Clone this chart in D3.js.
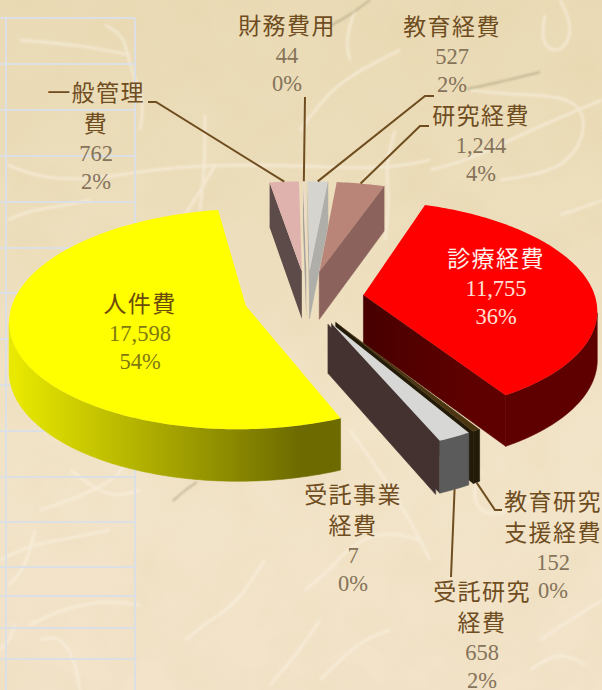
<!DOCTYPE html>
<html><head><meta charset="utf-8">
<style>html,body{margin:0;padding:0;background:#f0e2c6;overflow:hidden}svg{display:block}</style>
<script src="https://cdn.jsdelivr.net/npm/d3@7"></script></head>
<body><svg id="c" width="602" height="690"></svg>
<script>
// ---- data ----
const categories = [
  ["診療経費"], ["教育研究","支援経費"], ["受託研究","経費"], ["受託事業","経費"],
  ["人件費"], ["一般管理","費"], ["財務費用"], ["教育経費"], ["研究経費"]
];
const values = [11755, 152, 658, 7, 17598, 762, 44, 527, 1244];

// ---- style and layout ----
const topColors  = ["#ff0000","#4c3612","#d7d7d5","#8a8a88","#ffff00","#dfb2ad","#ecdcd2","#d6d4cf","#b98579"];
const arcColors  = ["#5f0000","#231a08","#5b5b5b","#5b5b5b","url(#yel)","#5c4b49","#a09a94","#b0aea8","#8b625c"];
const faceColors = ["url(#redFace)","#231a08","#443230","#443230","#6f6f00","#5c4b49","#a8a29c","#b0aea8","#8b625c"];
const paintOrder = [8,7,6,5,4,0,1,3,2];
const sliceNudge = [0,0,0,0,0,3,3,3,3];
const labelX = [496,553,482,353,140,96,287,452,481];
const labelY = [261,504,594,497,306,95,28,29,118];
const leaders = [null,[[495,510],[502,510]],[[451,577]],null,null,[[156,102],[148,102]],[[305,97]],[[425,96],[434,96]],[[420,126],[429,126]]];
const leaderFromBottom = [false,true,true,false,false,false,false,false,false];
const nameColors = ["#fff0ea","#6f4d1f","#6f4d1f","#6f4d1f","#6b4a0a","#6f4d1f","#6f4d1f","#6f4d1f","#6f4d1f"];
const numColors  = ["#ffe0d4","#85735a","#85735a","#85735a","#7f7a10","#85735a","#85735a","#85735a","#85735a"];
const gridH = [18,64,110,156,202,248,293,339,385,431,477,522,567,596,628,659];
const gridV = [6,135];
const fibers = [
 [[105,25],[125,35],[130,70],[145,100],[140,130]],[[8,165],[40,178],[90,180],[150,170],[200,165],[300,165],[380,170],[430,160]],
 [[205,115],[205,165],[200,210]],[[215,165],[195,200],[175,230]],[[130,55],[80,45],[20,40]],
 [[350,60],[345,40],[355,10]],[[300,130],[330,90],[360,70],[400,50]],[[430,170],[470,160],[530,130],[602,100]],
 [[560,0],[575,30],[560,55],[540,45],[545,15]],[[395,130],[385,165],[390,200],[385,240]],[[470,90],[510,95],[570,95],[590,120],[570,170],[500,180]],
 [[8,220],[30,210],[70,205],[90,200]],[[560,215],[590,205],[602,200]],
 [[305,590],[330,570],[350,545],[385,530],[420,540]],[[185,640],[210,620],[235,605],[255,575],[265,560]],[[270,685],[300,650],[320,620]],
 [[30,625],[60,610],[100,600],[140,605]],[[40,640],[60,635],[75,660],[80,690]],[[8,585],[25,570],[35,530]],[[0,560],[30,545],[60,540],[110,530]],
 [[0,650],[10,640],[15,625]],[[70,470],[110,500],[140,490]],[[540,640],[570,620],[602,600]],[[480,470],[470,500],[490,520],[530,500]],
 [[105,400],[140,460],[100,490],[40,510]],[[320,680],[360,640],[390,630]],[[350,430],[400,500],[430,560]],[[530,670],[560,650],[585,665]]
];
const darkFibers = [[[467,89],[500,82],[540,72]],[[330,26],[350,15],[370,0]],[[173,501],[185,490],[197,482]]];

// ---- scales / projection ----
const cx = 304, cy = 298, radius = 232, explode = 60, tilt = 0.46, persp = 0.12, deg = Math.PI/180;
const pie = d3.pie().sort(null).startAngle(19*deg).endAngle(379*deg);
const arcs = pie(values);
arcs.forEach(a => { a.nudge = sliceNudge[a.index]; });
const depth = d3.scalePow().exponent(0.54).domain([0,1]).range([0,48.3]);
function project(X, Y, lower, nudge){
  const f = 1/(1 - persp*Y/radius);
  return [cx + nudge + X*f, cy + tilt*Y*f + (lower ? depth(f) : 0)];
}
function rim(a, ang, lower){
  const mid = (a.startAngle + a.endAngle)/2;
  return project(explode*Math.sin(mid) + radius*Math.sin(ang), -explode*Math.cos(mid) - radius*Math.cos(ang), lower, a.nudge);
}
function apex(a, lower){
  const mid = (a.startAngle + a.endAngle)/2;
  return project(explode*Math.sin(mid), -explode*Math.cos(mid), lower, a.nudge);
}
const area = p => -d3.polygonArea(p);           // screen-space shoelace; sign gives facing
const line = d3.line();
const closed = p => line(p) + "Z";

// ---- paper ----
const svg = d3.select("#c");
const defs = svg.append("defs");
const bg = defs.append("linearGradient").attr("id","paper").attr("x1",0).attr("x2",0).attr("y1",0).attr("y2",1);
bg.append("stop").attr("offset",0).attr("stop-color","#eadbb6");
bg.append("stop").attr("offset",.35).attr("stop-color","#eddebd");
bg.append("stop").attr("offset",.62).attr("stop-color","#f2e4c8");
bg.append("stop").attr("offset",1).attr("stop-color","#f2e3c9");
const yel = defs.append("linearGradient").attr("id","yel").attr("gradientUnits","userSpaceOnUse")
  .attr("x1",15).attr("x2",300).attr("y1",0).attr("y2",0);
yel.append("stop").attr("offset",0).attr("stop-color","#e8e800");
yel.append("stop").attr("offset",1).attr("stop-color","#6d6b00");
const rf = defs.append("linearGradient").attr("id","redFace").attr("gradientUnits","userSpaceOnUse")
  .attr("x1",363).attr("x2",470).attr("y1",0).attr("y2",0);
rf.append("stop").attr("offset",0).attr("stop-color","#470000");
rf.append("stop").attr("offset",1).attr("stop-color","#5f0000");
const tf = defs.append("filter").attr("id","mottle").attr("x",0).attr("y",0).attr("width","100%").attr("height","100%");
tf.append("feTurbulence").attr("type","fractalNoise").attr("baseFrequency",0.018).attr("numOctaves",3).attr("seed",7);
tf.append("feColorMatrix").attr("values","0 0 0 0 0.72  0 0 0 0 0.58  0 0 0 0 0.30  0.7 0 0 0 -0.28");
defs.append("filter").attr("id","soft").append("feGaussianBlur").attr("stdDeviation",1.1);

svg.append("rect").attr("width",602).attr("height",690).attr("fill","url(#paper)");
svg.append("rect").attr("width",602).attr("height",690).attr("filter","url(#mottle)").attr("opacity",.4);
const curve = d3.line().curve(d3.curveBasis);
svg.append("g").attr("filter","url(#soft)").attr("fill","none").attr("stroke","#fbf4e8").attr("stroke-width",2.6).attr("opacity",.55)
  .selectAll("path").data(fibers).join("path").attr("d",curve);
svg.append("g").attr("filter","url(#soft)").attr("fill","none").attr("stroke","#9a9270").attr("stroke-width",1.5).attr("opacity",.7)
  .selectAll("path").data(darkFibers).join("path").attr("d",curve);

// ---- table grid behind the chart ----
const grid = svg.append("g").attr("stroke","#dcdfe3").attr("stroke-width",2);
grid.selectAll(".h").data(gridH).join("line").attr("x1",0).attr("x2",135).attr("y1",d=>d).attr("y2",d=>d);
grid.selectAll(".v").data(gridV).join("line").attr("x1",d=>d).attr("x2",d=>d).attr("y1",18).attr("y2",690);

// ---- slices ----
const gS = svg.append("g");
paintOrder.forEach(i => {
  const a = arcs[i], g = gS.append("g");
  const steps = d3.range(0, 1.0001, 1/Math.max(2, Math.ceil((a.endAngle-a.startAngle)/deg)));
  const angs = steps.map(t => a.startAngle + t*(a.endAngle-a.startAngle));
  const quad = ang => [apex(a,false), rim(a,ang,false), rim(a,ang,true), apex(a,true)];
  const qs = quad(a.startAngle), qe = quad(a.endAngle);
  if (area(qs) < 0) g.append("path").attr("d",closed(qs)).attr("fill",faceColors[i]);
  if (area(qe) > 0) g.append("path").attr("d",closed(qe)).attr("fill",faceColors[i]).attr("stroke",faceColors[i]).attr("stroke-width",.6);
  // outer wall: only the run of the rim that faces the viewer
  const vis = angs.filter((ang,k) => {
    const n = angs[Math.min(k+1,angs.length-1)], p = angs[Math.max(k-1,0)];
    return rim(a,n,false)[0] < rim(a,p,false)[0];
  });
  if (vis.length > 1) {
    const poly = vis.map(t=>rim(a,t,false)).concat(vis.slice().reverse().map(t=>rim(a,t,true)));
    g.append("path").attr("d",closed(poly)).attr("fill",arcColors[i]).attr("stroke",arcColors[i]).attr("stroke-width",.6);
  }
  const top = [apex(a,false)].concat(angs.map(t=>rim(a,t,false)));
  g.append("path").attr("d",closed(top)).attr("fill",topColors[i]);
});

// ---- leader lines ----
svg.append("g").attr("fill","none").attr("stroke","#6f4d1f").attr("stroke-width",2)
  .selectAll("path").data(arcs.map((a,i)=>({a,i})).filter(d=>leaders[d.i])).join("path")
  .attr("d", d => {
    const mid = (d.a.startAngle+d.a.endAngle)/2;
    return line([rim(d.a, mid, leaderFromBottom[d.i])].concat(leaders[d.i]));
  });

// ---- labels ----
const total = d3.sum(values), fmtN = d3.format(","), fmtP = d3.format(".0%");
const gL = svg.append("g").attr("text-anchor","middle");
categories.forEach((names,i) => {
  let y = labelY[i];
  names.forEach(n => {
    gL.append("text").attr("x",labelX[i]).attr("y",y).attr("dominant-baseline","middle")
      .attr("font-family","'Noto Sans CJK JP'").attr("font-size",23).attr("letter-spacing",1.4)
      .attr("fill",nameColors[i]).text(n);
    y += 31;
  });
  [fmtN(values[i]), fmtP(values[i]/total)].forEach((t,k) => {
    gL.append("text").attr("x",labelX[i]).attr("y",y - 1 + k*28).attr("dominant-baseline","middle")
      .attr("font-family","'Liberation Serif'").attr("font-size",22.5)
      .attr("fill",numColors[i]).text(t);
  });
});
</script></body></html>
